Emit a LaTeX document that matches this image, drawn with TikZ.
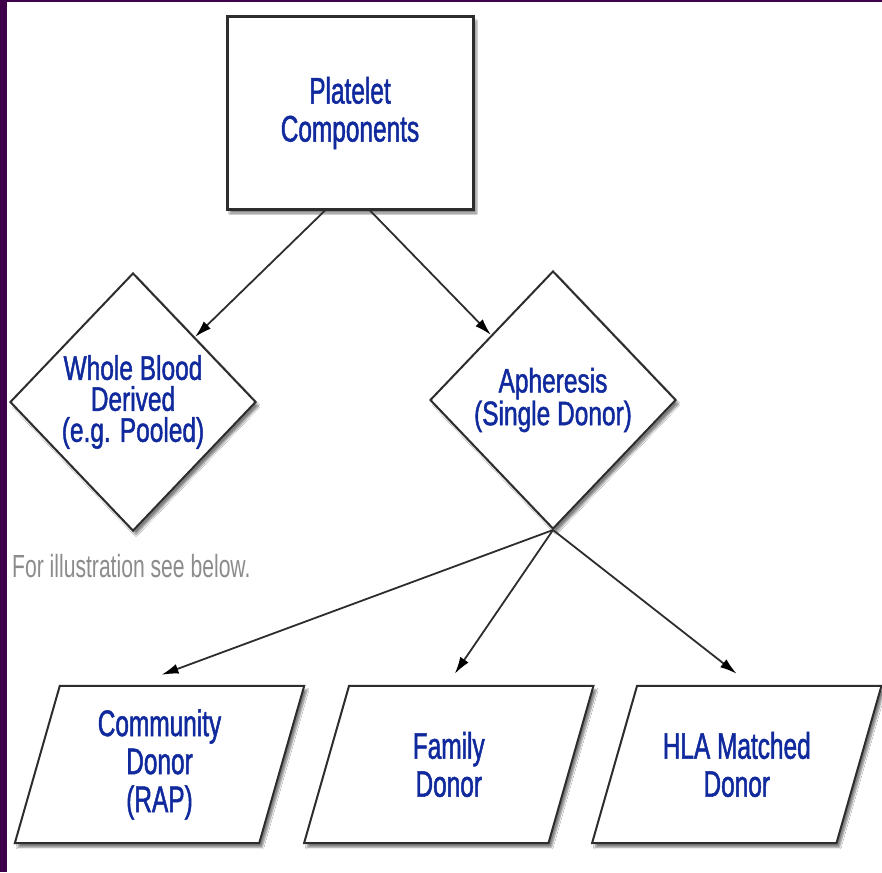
\documentclass[tikz,border=0pt]{standalone}
\usepackage{fontspec}
\usetikzlibrary{shapes.geometric,arrows.meta,shadows.blur}
\newfontfamily\chartfont[FakeStretch=0.66,FakeBold=1.3]{Liberation Sans}
\newfontfamily\diafont[FakeStretch=0.72,FakeBold=1.3]{Liberation Sans}
\newfontfamily\notefont[FakeStretch=0.66]{Liberation Sans}
\definecolor{frame}{RGB}{62,0,74}
\definecolor{labelblue}{RGB}{16,42,158}
\definecolor{edgegray}{RGB}{45,45,45}

\begin{document}
\begin{tikzpicture}[x=1pt,y=-1pt,
	boxshadow/.style={blur shadow={shadow xshift=3pt,shadow yshift=-4pt,shadow blur steps=6,shadow opacity=50}},
	topbox/.style={draw=edgegray,line width=3pt,fill=white,minimum width=246pt,minimum height=192pt,
		text=labelblue,align=center,font=\chartfont\fontsize{37}{38}\selectfont,boxshadow},
	decision/.style={diamond,draw=edgegray,line width=2pt,fill=white,inner sep=0pt,aspect=0.95,
		minimum width=246pt,minimum height=258pt,
		text=labelblue,align=center,font=\diafont\fontsize{34}{31}\selectfont,boxshadow},
	donor/.style={inner sep=0pt,minimum width=199pt,minimum height=157pt,
		text=labelblue,align=center,font=\chartfont\fontsize{37}{38}\selectfont},
	donorline/.style={draw=edgegray,line width=2pt,fill=white,boxshadow},
	note/.style={text=black!45,font=\notefont\fontsize{32}{34}\selectfont,inner sep=0pt},
	arr/.style={draw=edgegray,line width=1.8pt,-{Latex[length=17pt,width=10pt,color=black]}}]
	
	% Hintergrund und Rand
	\fill[white] (0,0) rectangle (882,872);
	\fill[frame] (0,0) rectangle (7,872);
	\fill[frame] (0,0) rectangle (882,2);
	\useasboundingbox (0,0) rectangle (882,872);
	
	% Knoten
	\node[topbox] (pc) at (350,113) {Platelet\\Components};
	\node[decision] (wb) at (133,402) {Whole Blood\\Derived\\(e.g. Pooled)};
	\node[decision] (ap) at (553,400) {Apheresis\\(Single Donor)};
	\node[note,anchor=west] (ill) at (12,566) {For illustration see below.};
	
	% Spender (Parallelogramme)
	\foreach \n/\x/\txt in {cd/159.5/{Community\\Donor\\(RAP)},fd/448.75/{Family\\Donor},hd/736.75/{HLA Matched\\Donor}}{
		\node[donor] (\n) at (\x,764.5) {};
		\draw[donorline] (\n.north west) -- ([xshift=45pt]\n.north east) -- (\n.south east)
			-- ([xshift=-45pt]\n.south west) -- cycle;
		\node[donor] at (\n) {\txt};
	}
	
	% Pfeile
	\draw[arr] ([xshift=-25pt]pc.south) -- (wb.north east);
	\draw[arr] ([xshift=20pt]pc.south) -- (ap.north west);
	\draw[arr] (ap.south) -- ([xshift=2pt,yshift=11pt]cd.north);
	\draw[arr] (ap.south) -- ([xshift=6pt,yshift=12pt]fd.north);
	\draw[arr] (ap.south) -- ([yshift=12pt]hd.north);
	
\end{tikzpicture}
\end{document}
